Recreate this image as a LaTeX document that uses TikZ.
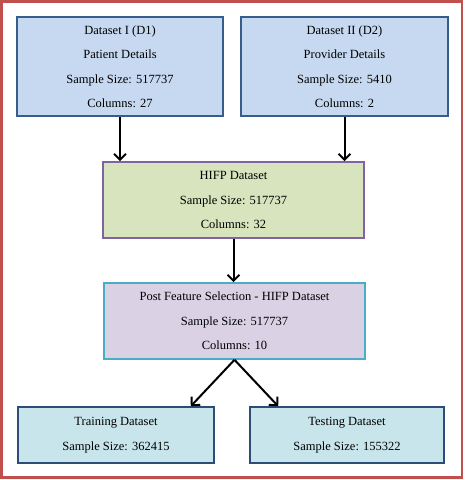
\documentclass[tikz,border=0pt]{standalone}
\usepackage{fontspec}
\setmainfont{Liberation Serif}
\usetikzlibrary{arrows.meta,calc}
\definecolor{redb}{HTML}{C0504D}
\definecolor{bluefill}{HTML}{C6D9F1}
\definecolor{blueline}{HTML}{385D8A}
\definecolor{greenfill}{HTML}{D7E4BD}
\definecolor{purpleline}{HTML}{8064A2}
\definecolor{lavfill}{HTML}{DAD2E4}
\definecolor{cyanline}{HTML}{4BACC6}
\definecolor{tealfill}{HTML}{C8E5EC}
\definecolor{darkline}{HTML}{2C4D75}
\tikzset{
  boxbase/.style={rectangle, draw, line width=1.6pt, align=center, inner sep=0pt,
    font=\fontsize{12.5}{24.5}\selectfont, text=black},
  srcbox/.style={boxbase, fill=bluefill, draw=blueline},
  hifpbox/.style={boxbase, fill=greenfill, draw=purpleline},
  postbox/.style={boxbase, fill=lavfill, draw=cyanline},
  splitbox/.style={boxbase, fill=tealfill, draw=darkline},
  flow/.style={draw=black, line width=2pt, -{Straight Barb[length=6pt,width=12pt,line width=2pt]}}
}
\begin{document}
\begin{tikzpicture}[x=1pt,y=-1pt]
\useasboundingbox (0,0) rectangle (464,480);
\draw[redb, line width=2.6pt] (1.5,1.5) rectangle (462,477.5);
\node[srcbox, minimum width=206pt, minimum height=99pt] (d1) at (120,66.5)
  {Dataset I (D1)\\Patient Details\\Sample Size: 517737\\Columns: 27};
\node[srcbox, minimum width=207pt, minimum height=99pt] (d2) at (344.5,66.5)
  {Dataset II (D2)\\Provider Details\\Sample Size: 5410\\Columns: 2};
\node[hifpbox, minimum width=261pt, minimum height=76pt] (hifp) at (233.5,200)
  {HIFP Dataset\\Sample Size: 517737\\Columns: 32};
\node[postbox, minimum width=261pt, minimum height=76pt] (post) at (234.5,321)
  {Post Feature Selection - HIFP Dataset\\Sample Size: 517737\\Columns: 10};
\node[splitbox, minimum width=196pt, minimum height=56pt] (train) at (116,435)
  {Training Dataset\\Sample Size: 362415};
\node[splitbox, minimum width=194pt, minimum height=56pt] (test) at (347,435)
  {Testing Dataset\\Sample Size: 155322};
\draw[flow] (d1.south) -- (d1.south |- hifp.north);
\draw[flow] (d2.south) -- (d2.south |- hifp.north);
\draw[flow] (hifp.south) -- (hifp.south |- post.north);
\coordinate (tl) at ($(train.north east)+(-24,0)$);
\coordinate (tr) at ($(test.north west)+(29,0)$);
\draw[flow] (post.south) -- (tl);
\draw[flow] (post.south) -- (tr);
\end{tikzpicture}
\end{document}
